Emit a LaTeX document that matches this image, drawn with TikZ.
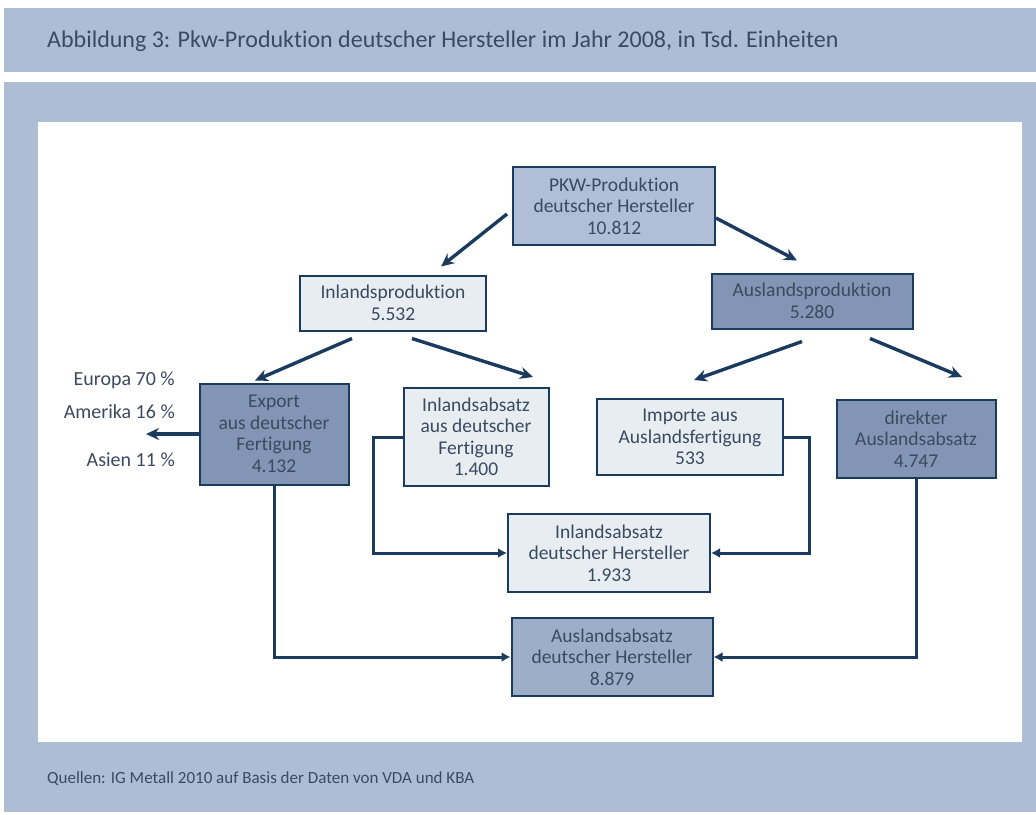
\documentclass[tikz,border=0pt]{standalone}
\usepackage{fontspec}
\setmainfont{Carlito}[Ligatures={NoCommon,NoContextual}]
\usetikzlibrary{arrows.meta}
\definecolor{band}{HTML}{AEBDD3}
\definecolor{navy}{HTML}{1A3A5E}
\definecolor{txt}{HTML}{3A4A60}
\definecolor{light}{HTML}{E8EDF2}
\definecolor{mid}{HTML}{B0BFD5}
\definecolor{dark}{HTML}{8295B4}
\definecolor{medium}{HTML}{9DAFC8}
\tikzset{
  box/.style={draw=navy, line width=2pt, align=center, text=txt, font=\fontsize{19.5}{21.5}\selectfont, inner sep=0pt},
  arr/.style={draw=navy, line width=3.4pt, -{Stealth[length=13pt,width=12pt]}},
  conn/.style={draw=navy, line width=3pt, -{Latex[length=9pt,width=10pt]}},
  lbl/.style={text=txt, font=\fontsize{20}{22}\selectfont, anchor=east, inner sep=0pt},
}
\begin{document}
\begin{tikzpicture}[x=1pt,y=-1pt]
\useasboundingbox (0,0) rectangle (1036,814);
\fill[white] (0,0) rectangle (1036,814);
\fill[band] (4,8) rectangle (1036,72);
\fill[band] (4,82) rectangle (1036,812);
\fill[white] (38,122) rectangle (1022,742);
\node[anchor=west, text=txt, font=\fontsize{24}{28}\selectfont, inner sep=0pt] (title) at (47,41) {Abbildung 3: Pkw-Produktion deutscher Hersteller im Jahr 2008, in Tsd. Einheiten};
\node[anchor=west, text=txt, font=\fontsize{17}{20}\selectfont, inner sep=0pt] (src) at (47,779) {Quellen: IG Metall 2010 auf Basis der Daten von VDA und KBA};

\node[box, fill=mid, minimum width=202pt, minimum height=78pt] (pkw) at (614,206) {PKW-Produktion\\deutscher Hersteller\\10.812};
\node[box, fill=light, minimum width=186pt, minimum height=55pt] (inland) at (393,303) {Inlandsproduktion\\5.532};
\node[box, fill=dark, minimum width=201pt, minimum height=55pt] (ausland) at (812,301) {Auslandsproduktion\\5.280};
\node[box, fill=dark, minimum width=149pt, minimum height=101pt] (export) at (274,434) {Export\\aus deutscher\\Fertigung\\4.132};
\node[box, fill=light, minimum width=145pt, minimum height=98pt] (inlaus) at (476,437) {Inlandsabsatz\\aus deutscher\\Fertigung\\1.400};
\node[box, fill=light, minimum width=186pt, minimum height=76pt] (importe) at (690,437) {Importe aus\\Auslandsfertigung\\533};
\node[box, fill=dark, minimum width=159pt, minimum height=78pt] (direkt) at (916,439) {direkter\\Auslandsabsatz\\4.747};
\node[box, fill=light, minimum width=202pt, minimum height=78pt] (inldt) at (609,553) {Inlandsabsatz\\deutscher Hersteller\\1.933};
\node[box, fill=medium, minimum width=201pt, minimum height=78pt] (ausdt) at (612,657) {Auslandsabsatz\\deutscher Hersteller\\8.879};

\node[lbl] (eu) at (175,380) {Europa 70 \%};
\node[lbl] (am) at (175,412) {Amerika 16 \%};
\node[lbl] (as) at (175,460) {Asien 11 \%};
\coordinate (expend) at (146,434);

\draw[arr] ([shift={(-5,8)}]pkw.west) -- ([shift={(48,-8)}]inland.north);
\draw[arr] ([shift={(0,12)}]pkw.east) -- ([shift={(-15,-12)}]ausland.north);
\draw[arr] ([shift={(-41,7)}]inland.south) -- ([shift={(-19,-2)}]export.north);
\draw[arr] ([shift={(19,7)}]inland.south) -- ([shift={(57,-10)}]inlaus.north);
\draw[arr] ([shift={(-10,12)}]ausland.south) -- ([shift={(4,-18)}]importe.north);
\draw[arr] ([shift={(58,9)}]ausland.south) -- ([shift={(46,-22)}]direkt.north);
\draw[arr] (export.west) -- (expend);

\draw[conn] (inlaus.west) -- ++(-29,0) |- (inldt.west);
\draw[conn] (importe.east) -- ++(25,0) |- (inldt.east);
\draw[conn] (export.south) |- (ausdt.west);
\draw[conn] (direkt.south) |- (ausdt.east);
\end{tikzpicture}
\end{document}
